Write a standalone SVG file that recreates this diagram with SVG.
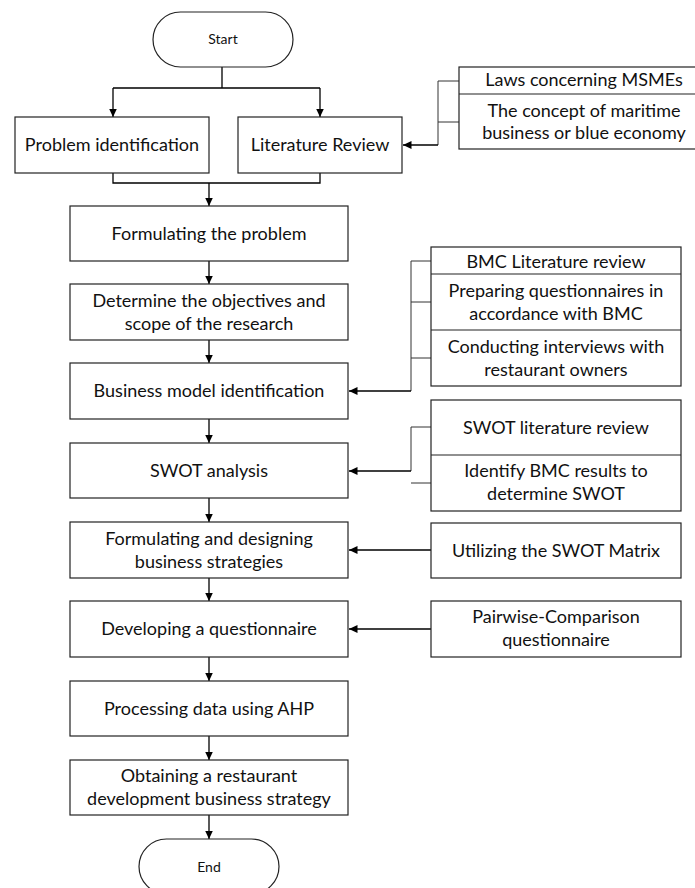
<svg xmlns="http://www.w3.org/2000/svg" width="695" height="888" viewBox="0 0 695 888">
<defs>
<marker id="ah" markerWidth="9" markerHeight="9" refX="8.5" refY="4.5" orient="auto" markerUnits="userSpaceOnUse"><path d="M0,0.5 L8.5,4.5 L0,8.5 z" fill="#000"/></marker>
<style>
.box{fill:#fff;stroke:#222;stroke-width:1.2}
.t{font-family:Lato,"Liberation Sans",sans-serif;font-size:18px;fill:#111;text-anchor:middle}
.ts{font-family:Lato,"Liberation Sans",sans-serif;font-size:14px;fill:#111;text-anchor:middle}
.c{fill:none;stroke:#000;stroke-width:1.3}
.b{fill:none;stroke:#333;stroke-width:1}
.a{fill:none;stroke:#000;stroke-width:1.3;marker-end:url(#ah)}
</style>
</defs>
<rect width="695" height="888" fill="#fff"/>
<g id="connectors">
<path class="c" d="M222,67 V88 M113,88 H320"/>
<path class="a" d="M113,88 V117"/>
<path class="a" d="M320,88 V117"/>
<path class="c" d="M113,173 V183 H320 V173"/>
<path class="a" d="M209,183 V206"/>
<path class="a" d="M209,261 V284"/>
<path class="a" d="M209,340 V363"/>
<path class="a" d="M209,419 V443"/>
<path class="a" d="M209,498 V522"/>
<path class="a" d="M209,578 V601"/>
<path class="a" d="M209,657 V681"/>
<path class="a" d="M209,736 V760"/>
<path class="a" d="M209,815 V839"/>
<path class="b" d="M459,81 H438 M459,122 H438 M438,81 V145"/>
<path class="a" d="M438,145 H403"/>
<path class="b" d="M431,261 H411 M431,302 H411 M431,358 H411 M411,261 V391"/>
<path class="a" d="M411,391 H349"/>
<path class="b" d="M431,427 H411 M431,483 H411 M411,427 V471"/>
<path class="a" d="M411,471 H349"/>
<path class="a" d="M431,550 H349"/>
<path class="a" d="M431,629 H349"/>
</g>
<g id="start"><rect class="box" x="153" y="12" width="140" height="55" rx="27.5"/><text class="ts" x="223" y="44">Start</text></g>
<g id="problem-identification"><rect class="box" x="15" y="117" width="194" height="56"/><text class="t" x="112" y="151">Problem identification</text></g>
<g id="literature-review"><rect class="box" x="238" y="117" width="164" height="56"/><text class="t" x="320" y="151">Literature Review</text></g>
<g id="lit-sources"><rect class="box" x="459" y="67" width="250" height="82"/><line class="box" x1="459" y1="94" x2="709" y2="94"/><text class="t" x="584" y="86">Laws concerning MSMEs</text><text class="t" x="584" y="117">The concept of maritime</text><text class="t" x="584" y="139">business or blue economy</text></g>
<g id="formulating-problem"><rect class="box" x="70" y="206" width="278" height="55"/><text class="t" x="209" y="240">Formulating the problem</text></g>
<g id="objectives"><rect class="box" x="70" y="284" width="278" height="56"/><text class="t" x="209" y="307">Determine the objectives and</text><text class="t" x="209" y="330">scope of the research</text></g>
<g id="bmc-sources"><rect class="box" x="431" y="247" width="250" height="139"/><line class="box" x1="431" y1="274" x2="681" y2="274"/><line class="box" x1="431" y1="330" x2="681" y2="330"/><text class="t" x="556" y="268">BMC Literature review</text><text class="t" x="556" y="297">Preparing questionnaires in</text><text class="t" x="556" y="320">accordance with BMC</text><text class="t" x="556" y="353">Conducting interviews with</text><text class="t" x="556" y="376">restaurant owners</text></g>
<g id="business-model"><rect class="box" x="70" y="363" width="278" height="56"/><text class="t" x="209" y="397">Business model identification</text></g>
<g id="swot-sources"><rect class="box" x="431" y="400" width="250" height="111"/><line class="box" x1="431" y1="455" x2="681" y2="455"/><text class="t" x="556" y="434">SWOT literature review</text><text class="t" x="556" y="477">Identify BMC results to</text><text class="t" x="556" y="500">determine SWOT</text></g>
<g id="swot-analysis"><rect class="box" x="70" y="443" width="278" height="55"/><text class="t" x="209" y="477">SWOT analysis</text></g>
<g id="strategies"><rect class="box" x="70" y="522" width="278" height="56"/><text class="t" x="209" y="545">Formulating and designing</text><text class="t" x="209" y="568">business strategies</text></g>
<g id="swot-matrix"><rect class="box" x="431" y="523" width="250" height="55"/><text class="t" x="556" y="557">Utilizing the SWOT Matrix</text></g>
<g id="questionnaire"><rect class="box" x="70" y="601" width="278" height="56"/><text class="t" x="209" y="635">Developing a questionnaire</text></g>
<g id="pairwise"><rect class="box" x="431" y="601" width="250" height="56"/><text class="t" x="556" y="623">Pairwise-Comparison</text><text class="t" x="556" y="646">questionnaire</text></g>
<g id="ahp"><rect class="box" x="70" y="681" width="278" height="55"/><text class="t" x="209" y="715">Processing data using AHP</text></g>
<g id="obtaining"><rect class="box" x="70" y="760" width="278" height="55"/><text class="t" x="209" y="782">Obtaining a restaurant</text><text class="t" x="209" y="805">development business strategy</text></g>
<g id="end"><rect class="box" x="139" y="839" width="140" height="55" rx="27.5"/><text class="ts" x="209" y="872">End</text></g>
</svg>
